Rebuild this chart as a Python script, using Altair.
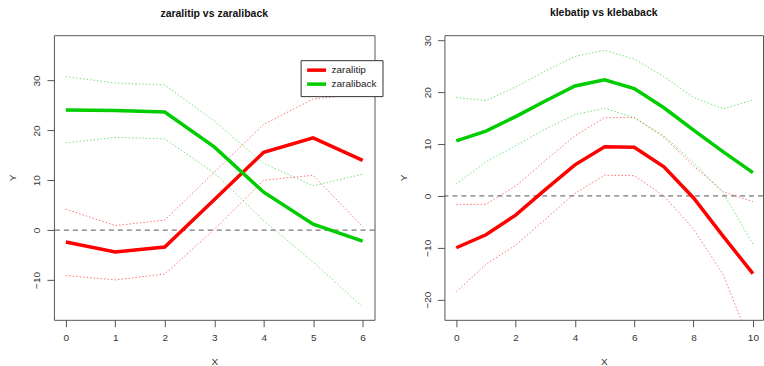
import altair as alt
import pandas as pd

# ---- zaralitip vs zaraliback (x = 0..6) ----
x_zara = [0, 1, 2, 3, 4, 5, 6]
zaralitip = [-2.4, -4.4, -3.4, 6.1, 15.6, 18.5, 14.0]
zaralitip_hi = [4.2, 0.9, 2.0, 11.6, 21.2, 26.3, 27.3]
zaralitip_lo = [-9.1, -10.0, -8.8, 0.1, 10.0, 11.0, 0.7]
zaraliback = [24.1, 24.0, 23.7, 16.7, 7.6, 1.2, -2.2]
zaraliback_hi = [30.8, 29.5, 29.1, 21.9, 13.4, 8.9, 11.2]
zaraliback_lo = [17.5, 18.6, 18.3, 11.5, 1.9, -6.4, -15.4]

# ---- klebatip vs klebaback (x = 0..10) ----
x_kleba = [0, 1, 2, 3, 4, 5, 6, 7, 8, 9, 10]
klebatip = [-10.0, -7.5, -3.7, 1.2, 6.0, 9.5, 9.4, 5.6, -0.4, -7.8, -15.0]
klebatip_hi = [-1.7, -1.6, 1.9, 6.8, 11.6, 15.1, 15.1, 11.3, 5.8, 0.8, -1.1]
klebatip_lo = [-18.5, -13.2, -9.5, -4.5, 0.5, 4.0, 3.9, 0.0, -6.4, -15.2, -29.7]
klebaback = [10.6, 12.5, 15.3, 18.3, 21.2, 22.4, 20.7, 17.0, 12.7, 8.5, 4.5]
klebaback_hi = [19.0, 18.4, 21.0, 24.1, 26.9, 28.1, 26.4, 23.0, 19.0, 16.8, 18.5]
klebaback_lo = [2.3, 6.6, 9.7, 12.9, 15.7, 16.9, 15.1, 11.6, 6.4, 0.6, -9.3]

# reference line at zero
baseline = [0]

RED = "#FF0000"
GREEN = "#00CD00"
FONT = "Liberation Sans"


def long_table(xs, tip, tip_hi, tip_lo, back, back_hi, back_lo, names):
    rows = []
    for name, series in ((names[0], (tip, tip_hi, tip_lo)), (names[1], (back, back_hi, back_lo))):
        for band, vals in zip(("mid", "hi", "lo"), series):
            for xv, yv in zip(xs, vals):
                rows.append({"x": xv, "y": yv, "series": name, "band": band})
    return pd.DataFrame(rows)


def panel(title, df, names, xdom, ydom, xticks, yticks, width, show_legend):
    x = alt.X("x:Q", scale=alt.Scale(domain=xdom, nice=False, zero=False),
              axis=alt.Axis(values=xticks, title="X", format="d"))
    y = alt.Y("y:Q", scale=alt.Scale(domain=ydom, nice=False, zero=False),
              axis=alt.Axis(values=yticks, title="Y", labelAngle=-90,
                            labelAlign="center", labelBaseline="bottom", format="d"))
    color_scale = alt.Scale(domain=names, range=[RED, GREEN])
    if show_legend:
        legend = alt.Legend(
            orient="none", legendX=247, legendY=25, title=None,
            fillColor="white", strokeColor="#333", padding=5,
            symbolType="M-4,0H4", symbolStrokeWidth=3.5, symbolSize=22.5,
            symbolOpacity=1, symbolOffset=6, labelOffset=10,
            labelFontSize=10, labelFont=FONT, labelColor="#222", rowPadding=0,
        )
        color = alt.Color("series:N", scale=color_scale, legend=legend, sort=names)
    else:
        color = alt.Color("series:N", scale=color_scale, legend=None, sort=names)

    base = alt.Chart(df)
    bands = base.transform_filter(alt.datum.band != "mid").mark_line(
        strokeWidth=1, strokeDash=[1.5, 2], opacity=0.55, clip=True
    ).encode(x=x, y=y, color=color, detail="band:N")
    zero = alt.Chart(pd.DataFrame({"y": baseline})).mark_rule(
        color="#555", strokeDash=[5, 4], strokeWidth=1
    ).encode(y=alt.Y("y:Q"))
    main = base.transform_filter(alt.datum.band == "mid").mark_line(
        strokeWidth=3.5, clip=True
    ).encode(x=x, y=y, color=color)
    return alt.layer(bands, zero, main).properties(
        width=width, height=285,
        title=alt.TitleParams(title, fontSize=10.5, fontWeight="bold", font=FONT,
                              anchor="middle", offset=16, color="#111"),
    )


left = panel("zaralitip vs zaraliback",
             long_table(x_zara, zaralitip, zaralitip_hi, zaralitip_lo,
                        zaraliback, zaraliback_hi, zaraliback_lo,
                        ["zaralitip", "zaraliback"]),
             ["zaralitip", "zaraliback"], [-0.24, 6.24], [-18.0, 39.1],
             x_zara, [-10, 0, 10, 20, 30], 321, True)

right = panel("klebatip vs klebaback",
              long_table(x_kleba, klebatip, klebatip_hi, klebatip_lo,
                         klebaback, klebaback_hi, klebaback_lo,
                         ["klebatip", "klebaback"]),
              ["klebatip", "klebaback"], [-0.4, 10.34], [-23.9, 31.0],
              [0, 2, 4, 6, 8, 10], [-20, -10, 0, 10, 20, 30], 319, False)

chart = alt.hconcat(left, right, spacing=70, bounds="flush").resolve_scale(
    color="independent"
).properties(
    padding={"left": 7, "top": 7, "right": 0, "bottom": 0},
).configure_view(
    stroke="#555", strokeWidth=1, fill="white"
).configure_axis(
    grid=False, domain=False, tickSize=7, tickColor="#555",
    labelFont=FONT, labelFontSize=10, labelColor="#333", labelPadding=5,
    titleFont=FONT, titleFontSize=10, titleFontWeight="normal", titleColor="#333",
).configure_axisY(titlePadding=14).configure_axisX(titlePadding=14, labelPadding=6)

chart.save("out.html", embed_options={"renderer": "svg", "actions": False})
